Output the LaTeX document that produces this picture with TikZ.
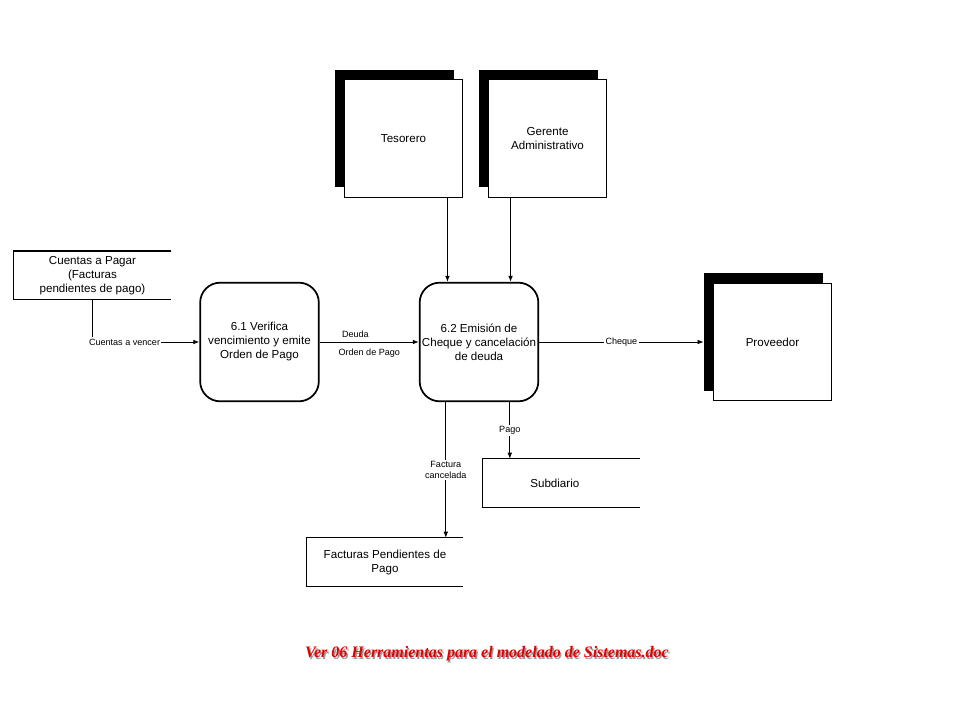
\documentclass[tikz,border=0pt]{standalone}
\usepackage{fontspec}
\setmainfont{Liberation Sans}
\newfontfamily\piefont{Liberation Serif}
\usetikzlibrary{arrows.meta, calc, positioning, shadows}

\tikzset{
    entidad/.style={draw, fill=white, line width=0.9pt, minimum width=89pt, minimum height=88pt,
        inner sep=1pt, align=center, font=\fontsize{8.7}{10.5}\selectfont,
        general shadow={fill=black, shadow xshift=-6.75pt, shadow yshift=7.5pt}},
    proceso/.style={draw, line width=1.3pt, rounded corners=15pt, minimum width=89pt, minimum height=89pt,
        inner sep=1pt, align=center, font=\fontsize{8.7}{10.5}\selectfont},
    almacen/.style={minimum height=36pt, inner sep=1pt, align=center, font=\fontsize{8.7}{10.5}\selectfont},
    flecha/.style={-{Latex[length=4.5pt,width=3.5pt]}, line width=0.6pt},
    rotulo/.style={font=\fontsize{6.8}{8}\selectfont, fill=white, inner sep=1pt, align=center}
}

\begin{document}
\begin{tikzpicture}[x=0.75pt, y=-0.75pt]
    \useasboundingbox (0,0) rectangle (960,720);

    % entidades externas
    \node[entidad] (teso) at (403.5,138.5) {Tesorero};
    \node[entidad] (ger) at (547.5,138.5) {Gerente\\Administrativo};
    \node[entidad] (prov) at (772.5,342) {Proveedor};

    % procesos
    \node[proceso] (p61) at (259.5,342) {6.1 Verifica\\vencimiento y emite\\Orden de Pago};
    \node[proceso] (p62) at (479,342) {6.2 Emisión de\\Cheque y cancelación\\de deuda};

    % almacenes de datos
    \node[almacen, minimum width=117.75pt] (cxp) at (92.5,275.5) {Cuentas a Pagar\\(Facturas\\pendientes de pago)};
    \node[almacen, minimum width=117.75pt] (sub) at (561.5,483) {\hspace*{-10pt}Subdiario};
    \node[almacen, minimum width=117pt] (fpp) at (385,562) {Facturas Pendientes de\\Pago};
    \foreach \s in {cxp, sub, fpp}
        \draw[line width=1.1pt] (\s.north east) -- (\s.north west) -- (\s.south west) -- (\s.south east);

    % flujos
    \draw[flecha] (cxp.south) |- (p61.west) node[rotulo, pos=0.65] {Cuentas a vencer};
    \draw[flecha] (p61.east) -- (p62.west)
        node[rotulo, pos=0.36, above=2pt, fill=none] {Deuda}
        node[rotulo, midway, below=4pt, fill=none] {Orden de Pago};
    \draw[flecha] ([xshift=-12pt]teso.south east) -- ([xshift=-12pt]teso.south east |- p62.north);
    \draw[flecha] ([xshift=17.25pt]ger.south west) -- ([xshift=17.25pt]ger.south west |- p62.north);
    \draw[flecha] (p62.east) -- ([xshift=-6.75pt]prov.west) node[rotulo, midway] {Cheque};
    \draw[flecha] ([xshift=20.25pt]p62.south west) -- ([xshift=20.25pt]p62.south west |- fpp.north)
        node[rotulo, midway] {Factura\\cancelada};
    \draw[flecha] ([xshift=68.25pt]p62.south west) -- ([xshift=68.25pt]p62.south west |- sub.north)
        node[rotulo, midway] {Pago};

    % pie
    \node[text=black!40, font=\piefont\bfseries\itshape\fontsize{12}{14}\selectfont] at (488.3,655.3)
        {Ver 06 Herramientas para el modelado de Sistemas.doc};
    \node (pie) [text=red!90!black, font=\piefont\bfseries\itshape\fontsize{12}{14}\selectfont] at (487,654)
        {Ver 06 Herramientas para el modelado de Sistemas.doc};
\end{tikzpicture}
\end{document}
